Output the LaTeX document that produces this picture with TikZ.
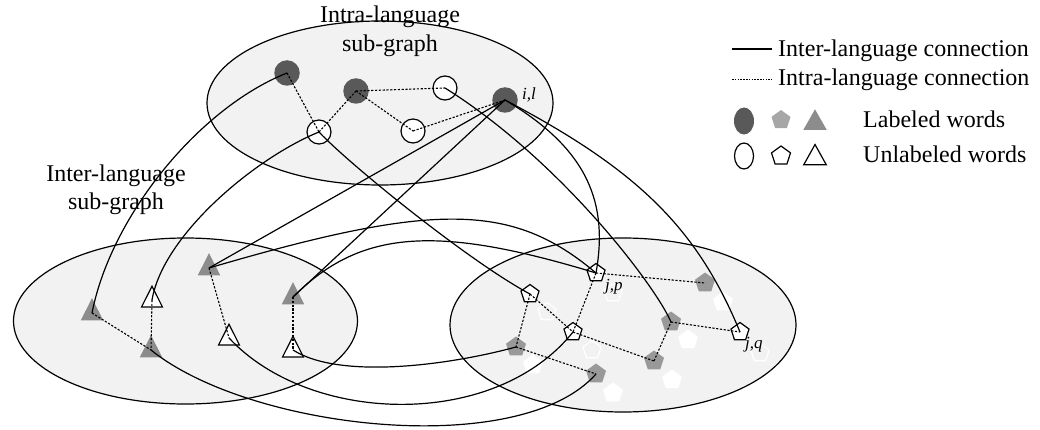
\documentclass[tikz,border=0pt]{standalone}
\usepackage{fontspec}
\setmainfont{Liberation Serif}
\usetikzlibrary{shapes.geometric}
\definecolor{regionfill}{HTML}{F2F2F2}
\definecolor{darkword}{HTML}{595959}
\definecolor{triword}{HTML}{8C8C8C}
\definecolor{pentword}{HTML}{999999}
\definecolor{legpent}{HTML}{A6A6A6}
\begin{document}
\begin{tikzpicture}[x=1pt,y=-1pt,
  region/.style={draw=black, line width=1.2pt, fill=regionfill},
  labc/.style={circle, fill=darkword, minimum size=25.5pt, inner sep=0pt},
  unlc/.style={circle, draw=black, line width=1.2pt, fill=white, minimum size=24pt, inner sep=0pt},
  labt/.style={regular polygon, regular polygon sides=3, fill=triword, minimum size=26pt, inner sep=0pt, yscale=1.15},
  unlt/.style={regular polygon, regular polygon sides=3, draw=black, line width=1.2pt, fill=white, minimum size=24pt, inner sep=0pt, yscale=1.15},
  labp/.style={regular polygon, regular polygon sides=5, fill=pentword, minimum size=21pt, inner sep=0pt},
  unlp/.style={regular polygon, regular polygon sides=5, draw=black, line width=1.2pt, fill=white, minimum size=19pt, inner sep=0pt},
  ghostfill/.style={regular polygon, regular polygon sides=5, fill=white, minimum size=21pt, inner sep=0pt},
  ghostline/.style={regular polygon, regular polygon sides=5, draw=white, line width=1.2pt, minimum size=19pt, inner sep=0pt},
  inter/.style={draw=black, line width=1.2pt},
  intra/.style={draw=black, line width=1.1pt, dash pattern=on 2.2pt off 1.6pt},
  lab/.style={font=\fontsize{24}{28}\selectfont, inner sep=0pt},
  tag/.style={font=\fontsize{17}{20}\selectfont\itshape, inner sep=0pt}
]
\useasboundingbox (0,0) rectangle (1040,430);

% the three language regions
\draw[region] (380,103) ellipse [x radius=173, y radius=82];
\draw[region] (185.5,321) ellipse [x radius=172, y radius=83];
\draw[region] (623,325) ellipse [x radius=173, y radius=87];

% faint white words in the right region
\node[ghostline] (gh1) at (547,312) {};
\node[ghostline] (gh2) at (592,350) {};
\node[ghostline] (gh3) at (613,293) {};
\node[ghostline] (gh4) at (760,353) {};
\node[ghostfill] (gh5) at (533,365) {};
\node[ghostfill] (gh6) at (613,393) {};
\node[ghostfill] (gh7) at (672,380) {};
\node[ghostfill] (gh8) at (688,340) {};
\node[ghostfill] (gh9) at (723,302) {};

% top region words
\node[labc] (c1) at (287,73) {};
\node[labc] (c2) at (356,91) {};
\node[unlc] (c3) at (445,88) {};
\node[unlc] (c4) at (319,132) {};
\node[unlc] (c5) at (413,131) {};
\node[labc] (il) at (505,100) {};

% left region words
\node[labt] (T1) at (92,313) {};
\node[unlt] (T2) at (152,300) {};
\node[labt] (T3) at (151,350) {};
\node[labt] (T4) at (209,268) {};
\node[unlt] (T5) at (229,338) {};
\node[labt] (T6) at (293,297) {};
\node[unlt] (T7) at (293,350) {};

% right region words
\node[unlp] (pjp) at (596,273) {};
\node[unlp] (P2) at (530,294) {};
\node[unlp] (P3) at (573,332) {};
\node[labp] (G1) at (516,347) {};
\node[labp] (G2) at (596,374) {};
\node[labp] (G3) at (705,283) {};
\node[labp] (G4) at (671,322) {};
\node[labp] (G5) at (654,361) {};
\node[unlp] (pjq) at (740,332) {};

% titles and index tags
\node[lab, anchor=base] (ttl1) at (390,23) {Intra-language};
\node[lab, anchor=base] (ttl2) at (390,52) {sub-graph};
\node[lab, anchor=base] (lft1) at (116,182) {Inter-language};
\node[lab, anchor=base] (lft2) at (116,210) {sub-graph};
\node[tag, anchor=base west] (tagil) at (522,100) {i,l};
\node[tag, anchor=base west] (tagjp) at (605,290) {j,p};
\node[tag, anchor=base west] (tagjq) at (745,348) {j,q};

% intra-language connections
\draw[intra] (c1.center) -- (c4.center);
\draw[intra] (c4.center) -- (c2.center);
\draw[intra] (c2.center) -- (c3.center);
\draw[intra] (c2.center) -- (c5.center);
\draw[intra] (c5.center) -- (il.center);
\draw[intra] (T1.center) -- (T3.center);
\draw[intra] (T2.center) -- (T3.center);
\draw[intra] (T4.center) -- (T5.center);
\draw[intra] (T6.center) -- (T7.center);
\draw[intra] (pjp.center) -- (G3.center);
\draw[intra] (pjp.center) -- (P3.center);
\draw[intra] (P2.center) -- (P3.center);
\draw[intra] (P2.center) -- (G1.center);
\draw[intra] (G1.center) -- (G2.center);
\draw[intra] (P3.center) -- (G5.center);
\draw[intra] (G5.center) -- (G4.center);
\draw[intra] (G4.center) -- (pjq.center);

% inter-language connections
\draw[inter] (c1.center) .. controls (199,108) and (111,216) .. (T1.center);
\draw[inter] (c4.center) .. controls (255,158) and (163,235) .. (T2.center);
\draw[inter] (c4.center) .. controls (350,165) and (470,262) .. (P2.center);
\draw[inter] (c3.center) .. controls (560,160) and (655,285) .. (G4.center);
\draw[inter] (il.center) .. controls (590,150) and (608,205) .. (pjp.center);
\draw[inter] (il.center) .. controls (638,170) and (697,228) .. (pjq.center);
\draw[inter] (il.center) -- (T4.center);
\draw[inter] (il.center) -- (T6.center);
\draw[inter] (T4.center) .. controls (434,202) and (512,202) .. (pjp.center);
\draw[inter] (T6.center) .. controls (360,230) and (435,224) .. (pjp.center);
\draw[inter] (T7.center) .. controls (340,380) and (450,365) .. (G1.center);
\draw[inter] (T5.center) .. controls (310,425) and (495,430) .. (P3.center);
\draw[inter] (T3.center) .. controls (250,430) and (520,460) .. (G2.center);

% legend
\coordinate (s0) at (732,49);
\coordinate (s1) at (772,49);
\coordinate (d0) at (732,79);
\coordinate (d1) at (772,79);
\draw[inter] (s0) -- (s1);
\draw[intra, line width=0.9pt, dash pattern=on 1.6pt off 1.2pt] (d0) -- (d1);
\node[lab, anchor=base west] (leg1) at (778,57) {Inter-language connection};
\node[lab, anchor=base west] (leg2) at (778,86) {Intra-language connection};
\node[ellipse, fill=darkword, minimum width=20pt, minimum height=27pt, inner sep=0pt] (lc1) at (744,121) {};
\node[regular polygon, regular polygon sides=5, fill=legpent, minimum size=20pt, inner sep=0pt] (lp1) at (781,120) {};
\node[labt, minimum size=27pt, yscale=0.88] (lt1) at (815,123) {};
\node[ellipse, draw=black, line width=1.2pt, fill=white, minimum width=19pt, minimum height=26pt, inner sep=0pt] (lc2) at (744,156) {};
\node[unlp, minimum size=20pt] (lp2) at (781,156) {};
\node[unlt, minimum size=26pt, yscale=0.9] (lt2) at (815,158) {};
\node[lab, anchor=base west] (leg3) at (863,128) {Labeled words};
\node[lab, anchor=base west] (leg4) at (863,163) {Unlabeled words};
\end{tikzpicture}
\end{document}
